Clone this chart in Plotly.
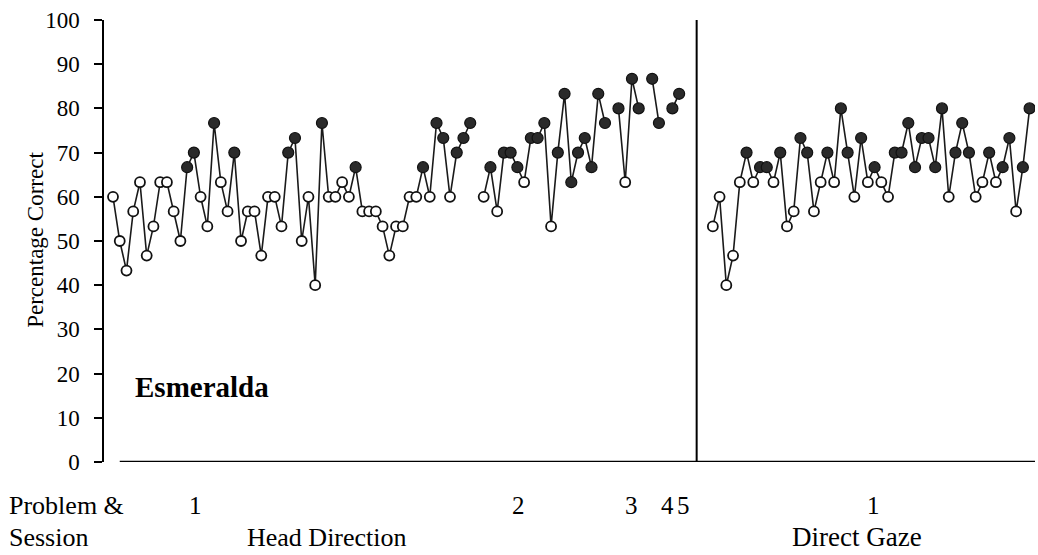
import plotly.graph_objects as go

# Percentage correct per session (None = no session run at that slot)
head_direction = [
    60, 50, 43.3, 56.7, 63.3, 46.7, 53.3, 63.3, 63.3, 56.7,
    50, 66.7, 70, 60, 53.3, 76.7, 63.3, 56.7, 70, 50,
    56.7, 56.7, 46.7, 60, 60, 53.3, 70, 73.3, 50, 60,
    40, 76.7, 60, 60, 63.3, 60, 66.7, 56.7, 56.7, 56.7,
    53.3, 46.7, 53.3, 53.3, 60, 60, 66.7, 60, 76.7, 73.3,
    60, 70, 73.3, 76.7,
    None,
    60, 66.7, 56.7, 70, 70, 66.7, 63.3, 73.3, 73.3, 76.7,
    53.3, 70, 83.3, 63.3, 70, 73.3, 66.7, 83.3, 76.7,
    None,
    80, 63.3, 86.7, 80,
    None,
    86.7, 76.7,
    None,
    80, 83.3,
]
# 1 = criterion session (filled marker), 0 = open marker
head_filled = [
    0, 0, 0, 0, 0, 0, 0, 0, 0, 0,
    0, 1, 1, 0, 0, 1, 0, 0, 1, 0,
    0, 0, 0, 0, 0, 0, 1, 1, 0, 0,
    0, 1, 0, 0, 0, 0, 1, 0, 0, 0,
    0, 0, 0, 0, 0, 0, 1, 0, 1, 1,
    0, 1, 1, 1,
    0,
    0, 1, 0, 1, 1, 1, 0, 1, 1, 1,
    0, 1, 1, 1, 1, 1, 1, 1, 1,
    0,
    1, 0, 1, 1,
    0,
    1, 1,
    0,
    1, 1,
]

direct_gaze = [
    53.3, 60, 40, 46.7, 63.3, 70, 63.3, 66.7, 66.7, 63.3,
    70, 53.3, 56.7, 73.3, 70, 56.7, 63.3, 70, 63.3, 80,
    70, 60, 73.3, 63.3, 66.7, 63.3, 60, 70, 70, 76.7,
    66.7, 73.3, 73.3, 66.7, 80, 60, 70, 76.7, 70, 60,
    63.3, 70, 63.3, 66.7, 73.3, 56.7, 66.7, 80,
]
gaze_filled = [1 if v >= 66.7 else 0 for v in direct_gaze]

gaze_start = 89          # session slot where Direct Gaze begins
divider_at = 86.6        # boundary between the two conditions

problem_labels = ["1", "2", "3", "4", "5", "1"]
problem_label_x = [12.2, 60.2, 76.9, 82.2, 84.7, 112.9]

hd_x = list(range(len(head_direction)))
dg_x = [gaze_start + i for i in range(len(direct_gaze))]

fig = go.Figure()

line_style = dict(color="#1a1a1a", width=1.6)


def add_condition(xs, ys, flags):
    fig.add_trace(go.Scatter(x=xs, y=ys, mode="lines", line=line_style,
                             connectgaps=False, hoverinfo="skip"))
    ox = [x for x, y, f in zip(xs, ys, flags) if y is not None and not f]
    oy = [y for y, f in zip(ys, flags) if y is not None and not f]
    fx = [x for x, y, f in zip(xs, ys, flags) if y is not None and f]
    fy = [y for y, f in zip(ys, flags) if y is not None and f]
    fig.add_trace(go.Scatter(x=ox, y=oy, mode="markers",
                             marker=dict(symbol="circle", size=10, color="white",
                                         line=dict(color="#111", width=1.8))))
    fig.add_trace(go.Scatter(x=fx, y=fy, mode="markers",
                             marker=dict(symbol="circle", size=11, color="#2a2a2a",
                                         line=dict(color="#111", width=1.2))))


add_condition(hd_x, head_direction, head_filled)
add_condition(dg_x, direct_gaze, gaze_filled)

serif = "Liberation Serif"

fig.update_layout(
    width=1038, height=555,
    margin=dict(l=104, r=3, t=20, b=93),
    paper_bgcolor="white", plot_bgcolor="white",
    showlegend=False,
    font=dict(family=serif, color="black"),
    xaxis=dict(range=[-1.335, 136.8], showgrid=False, zeroline=False,
               showticklabels=False, ticks="", showline=False, fixedrange=True),
    yaxis=dict(range=[0, 100], tickvals=list(range(0, 101, 10)),
               showgrid=False, zeroline=False, showline=True,
               linecolor="black", linewidth=1.5, ticks="outside",
               ticklen=8, tickwidth=1.5, tickcolor="black",
               ticklabelstandoff=10, tickfont=dict(size=23, family=serif),
               fixedrange=True),
)

# horizontal base line and the divider between conditions
fig.add_shape(type="line", xref="x", yref="y", x0=1.0, x1=137.5, y0=0, y1=0,
              line=dict(color="black", width=2.5))
fig.add_shape(type="line", xref="x", yref="y", x0=divider_at, x1=divider_at,
              y0=0, y1=100, line=dict(color="black", width=2))

annotations = [
    dict(text="Percentage Correct", xref="paper", yref="paper",
         x=-0.09, y=0.502, textangle=-90, showarrow=False,
         font=dict(size=23, family=serif)),
    dict(text="<b>Esmeralda</b>", xref="x", yref="y", x=3.0, y=17,
         xanchor="left", yanchor="middle", showarrow=False,
         font=dict(size=29, family=serif)),
    dict(text="Problem &", xref="paper", yref="paper", x=-0.104, y=-0.0995,
         xanchor="left", yanchor="middle", showarrow=False,
         font=dict(size=26, family=serif)),
    dict(text="Session", xref="paper", yref="paper", x=-0.104, y=-0.170,
         xanchor="left", yanchor="middle", showarrow=False,
         font=dict(size=26, family=serif)),
    dict(text="Head Direction", xref="x", yref="paper", x=31.7, y=-0.170,
         xanchor="center", yanchor="middle", showarrow=False,
         font=dict(size=26, family=serif)),
    dict(text="Direct Gaze", xref="x", yref="paper", x=110.4, y=-0.170,
         xanchor="center", yanchor="middle", showarrow=False,
         font=dict(size=27, family=serif)),
]
for lab, lx in zip(problem_labels, problem_label_x):
    annotations.append(dict(text=lab, xref="x", yref="paper", x=lx, y=-0.0995,
                            xanchor="center", yanchor="middle", showarrow=False,
                            font=dict(size=25, family=serif)))
fig.update_layout(annotations=annotations)

fig.write_html("out.html")
